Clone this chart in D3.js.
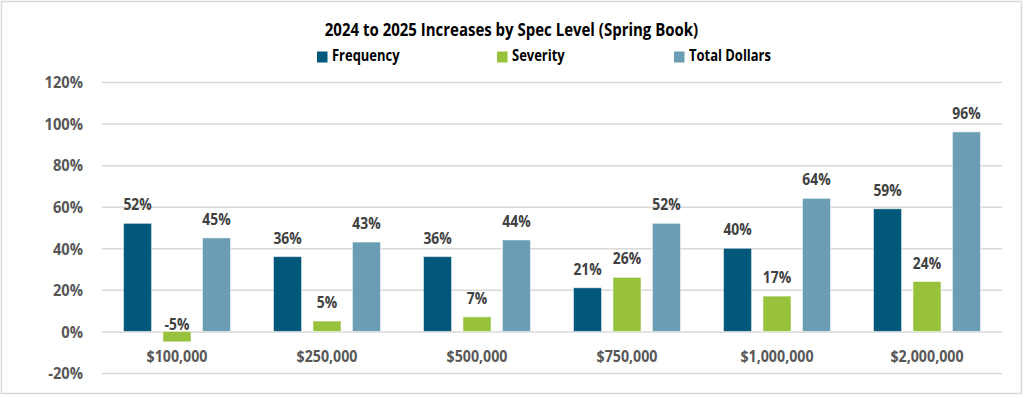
<!DOCTYPE html>
<html><head><meta charset="utf-8">
<script src="https://cdn.jsdelivr.net/npm/d3@7"></script>
<style>
html,body{margin:0;padding:0;background:#fff;}
svg text{font-family:"Open Sans","DejaVu Sans",sans-serif;font-weight:bold;}
</style></head>
<body>
<svg id="chart" width="1024" height="398"></svg>
<script>
const categories = ["$100,000","$250,000","$500,000","$750,000","$1,000,000","$2,000,000"];
const seriesNames = ["Frequency","Severity","Total Dollars"];
const frequency = [52,36,36,21,40,59];
const severity = [-5,5,7,26,17,24];
const totalDollars = [45,43,44,52,64,96];
const yTicks = [-20,0,20,40,60,80,100,120];
const colors = ["#02587A","#98C23C","#6B9EB5"];

const seriesValues = [frequency, severity, totalDollars];
const svg = d3.select("#chart");
const W = 1024, H = 398;
const COND_Y = 0.92, COND_X = 0.89, COND_V = 0.84, COND_T = 0.81;

svg.append("rect").attr("x",1.5).attr("y",1.5).attr("width",W-4).attr("height",H-6)
  .attr("fill","#fff").attr("stroke","#d9d9d9").attr("stroke-width",1.5);

const y = d3.scaleLinear().domain([-20,120]).range([373,82]);
const x0 = d3.scaleBand().domain(categories).range([102,1002]).paddingInner(0.287).paddingOuter(0.1435);
const x1 = d3.scaleBand().domain(seriesNames).range([0,x0.bandwidth()]).paddingInner(0.29).paddingOuter(0);

// grid + y labels
const yAxis = d3.axisLeft(y).tickValues(yTicks).tickSize(-900).tickFormat(d=>d+"%");
const gy = svg.append("g").attr("transform","translate(102,0)").call(yAxis);
gy.select(".domain").remove();
gy.selectAll(".tick line").attr("stroke","#d9d9d9").attr("stroke-width",1.5);
gy.selectAll(".tick text").attr("x",0).attr("dy","0.36em").attr("fill","#575757")
  .attr("transform",`translate(-19,0) scale(${COND_Y},1)`)
  .style("font-size","16px").style("font-family","'Open Sans',sans-serif").style("font-weight","bold");

// bars + value labels
const groups = svg.append("g").selectAll("g").data(categories).join("g")
  .attr("transform",d=>`translate(${x0(d)},0)`);
groups.each(function(cat,ci){
  const g = d3.select(this);
  seriesNames.forEach((s,si)=>{
    const v = seriesValues[si][ci];
    g.append("rect")
      .attr("x",x1(s)).attr("width",x1.bandwidth())
      .attr("y",y(Math.max(0,v))).attr("height",Math.abs(y(v)-y(0)))
      .attr("fill",colors[si]).attr("stroke","#ffffff").attr("stroke-opacity",0.5).attr("stroke-width",1);
    const ly = v>=0 ? y(v)-13 : y(0)-1.3;
    g.append("text")
      .attr("transform",`translate(${x1(s)+x1.bandwidth()/2},${ly}) scale(${COND_V},1)`)
      .attr("text-anchor","middle").attr("fill","#404040").attr("font-size",16.5)
      .text(v+"%");
  });
});

// category labels
const xAxis = d3.axisBottom(x0).tickSize(0).tickPadding(0);
const gx = svg.append("g").attr("transform","translate(0,0)").call(xAxis);
gx.select(".domain").remove();
gx.selectAll(".tick text").attr("y",0).attr("dy",null).attr("fill","#575757")
  .attr("transform",`translate(0,362) scale(${COND_X},1)`)
  .style("font-size","16px").style("font-family","'Open Sans',sans-serif").style("font-weight","bold");

// title
svg.append("text").attr("transform",`translate(511.5,35.5) scale(${COND_T},1)`).attr("text-anchor","middle")
  .attr("font-size",18.5).attr("fill","#000").text("2024 to 2025 Increases by Spec Level (Spring Book)");

// legend
const legendX = [317,497,674];
const lg = svg.append("g").selectAll("g").data(seriesNames).join("g")
  .attr("transform",(d,i)=>`translate(${legendX[i]},0)`);
lg.append("rect").attr("x",0).attr("y",51.5).attr("width",10.5).attr("height",11).attr("fill",(d,i)=>colors[i]);
lg.append("text").attr("transform",`translate(15,61) scale(${COND_T},1)`).attr("font-size",16).attr("fill","#000").text(d=>d);
</script>
</body></html>
